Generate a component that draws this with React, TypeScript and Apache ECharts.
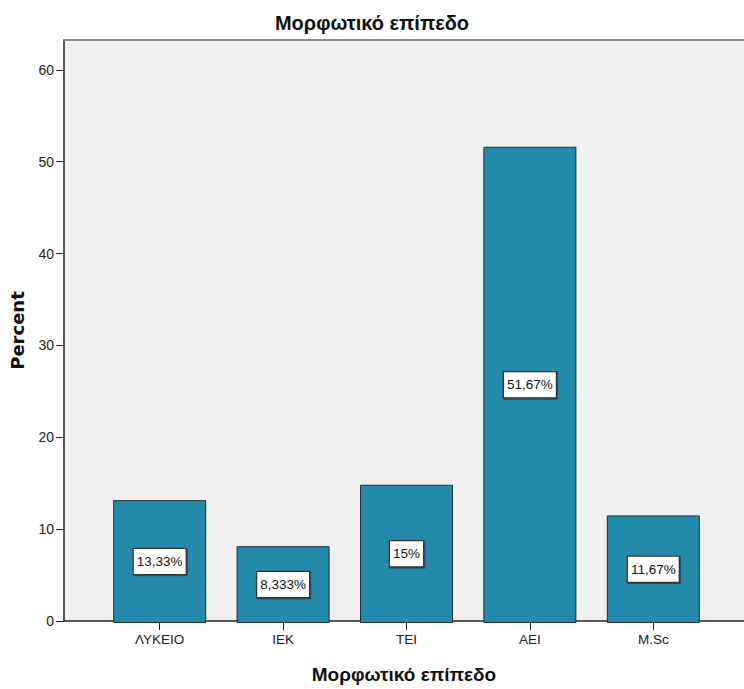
import React, { useEffect, useRef } from "react";
import * as echarts from "echarts";

const categories = ["ΛΥΚΕΙΟ", "ΙΕΚ", "ΤΕΙ", "ΑΕΙ", "M.Sc"];
const percents = [13.33, 8.333, 15, 51.67, 11.67];
const yTicks = { min: 0, max: 63.25, interval: 10 };
const titleText = "Μορφωτικό επίπεδο";
const xAxisTitle = "Μορφωτικό επίπεδο";
const yAxisTitle = "Percent";

const FONT = "'Liberation Sans', Arial, sans-serif";

export default function App() {
  const ref = useRef<HTMLDivElement>(null);

  useEffect(() => {
    if (!ref.current) return;
    const chart = echarts.init(ref.current, undefined, { renderer: "svg" });
    chart.setOption({
      animation: false,
      backgroundColor: "#ffffff",
      title: {
        text: titleText,
        left: "center",
        top: 8,
        textStyle: { fontFamily: FONT, fontSize: 20, fontWeight: "bold", color: "#111" },
      },
      grid: [
        { left: 64, right: 0, top: 40, bottom: 66, show: true, backgroundColor: "#f0f0f0", borderWidth: 0 },
        { left: 98, right: 29, top: 40, bottom: 66 },
      ],
      xAxis: [
        {
          gridIndex: 0,
          type: "value",
          min: 0,
          max: 1,
          position: "bottom",
          axisLine: { show: true, lineStyle: { color: "#222", width: 1.5 } },
          axisTick: { show: false },
          axisLabel: { show: false },
          splitLine: { show: false },
          name: xAxisTitle,
          nameLocation: "middle",
          nameGap: 44,
          nameTextStyle: { fontFamily: FONT, fontSize: 19, fontWeight: "bold", color: "#111" },
        },
        {
          gridIndex: 0,
          type: "value",
          min: 0,
          max: 1,
          position: "top",
          axisLine: { show: true, lineStyle: { color: "#8c8c8c", width: 2 } },
          axisTick: { show: false },
          axisLabel: { show: false },
          splitLine: { show: false },
        },
        {
          gridIndex: 1,
          type: "category",
          data: categories,
          axisLine: { show: false },
          axisTick: { show: true, alignWithLabel: true, length: 7, lineStyle: { color: "#222" } },
          axisLabel: { fontFamily: FONT, fontSize: 13.5, color: "#222", margin: 9 },
        },
      ],
      yAxis: [
        {
          gridIndex: 0,
          type: "value",
          min: yTicks.min,
          max: yTicks.max,
          interval: yTicks.interval,
          axisLine: { show: true, lineStyle: { color: "#222", width: 1.5 } },
          axisTick: { show: true, length: 8, lineStyle: { color: "#222" } },
          axisLabel: {
            fontFamily: FONT,
            fontSize: 14,
            color: "#222",
            margin: 10,
            showMaxLabel: false,
          },
          splitLine: { show: false },
          name: yAxisTitle,
          nameLocation: "middle",
          nameRotate: 90,
          nameGap: 38,
          nameTextStyle: { fontFamily: "'DejaVu Sans', sans-serif", fontSize: 18, fontWeight: "bold", color: "#111" },
        },
        {
          gridIndex: 1,
          type: "value",
          min: yTicks.min,
          max: yTicks.max,
          show: false,
        },
      ],
      series: [
        {
          type: "bar",
          xAxisIndex: 2,
          yAxisIndex: 1,
          data: percents,
          barWidth: 93,
          itemStyle: { color: "#248aab", borderColor: "#1c2d35", borderWidth: 1 },
          label: {
            show: true,
            position: "inside",
            formatter: (p: any) => String(p.value).replace(".", ",") + "%",
            fontFamily: FONT,
            fontSize: 13.5,
            color: "#111",
            backgroundColor: "#ffffff",
            borderColor: "#333",
            borderWidth: 1.3,
            padding: [6, 3, 5, 3],
            shadowColor: "rgba(0,0,0,0.35)",
            shadowBlur: 1,
            shadowOffsetX: 1,
            shadowOffsetY: 1,
          },
        },
      ],
    });
    return () => chart.dispose();
  }, []);

  return (
    <div
      ref={ref}
      style={{ position: "absolute", left: 0, top: 0, width: 744, height: 689 }}
    />
  );
}
